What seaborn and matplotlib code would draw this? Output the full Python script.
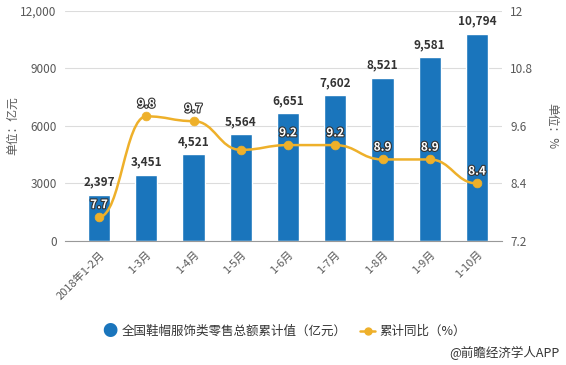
import numpy as np
import matplotlib
matplotlib.use("Agg")
import matplotlib.pyplot as plt
import matplotlib.patheffects as pe
from matplotlib.path import Path
from matplotlib.patches import PathPatch
import seaborn as sns
import pandas as pd

# data
months = ['2018年1-2月', '1-3月', '1-4月', '1-5月', '1-6月', '1-7月', '1-8月', '1-9月', '1-10月']
retail = [2397, 3451, 4521, 5564, 6651, 7602, 8521, 9581, 10794]
growth = [7.7, 9.8, 9.7, 9.1, 9.2, 9.2, 8.9, 8.9, 8.4]
growth_labels = ['7.7', '9.8', '9.7', '', '9.2', '9.2', '8.9', '8.9', '8.4']
left_ticks = [0, 3000, 6000, 9000, 12000]
left_ticklabels = ['0', '3000', '6000', '9000', '12,000']
right_ticks = [7.2, 8.4, 9.6, 10.8, 12]
right_ticklabels = ['7.2', '8.4', '9.6', '10.8', '12']

sns.set_style('white')
plt.rcParams['font.family'] = ['Noto Sans CJK SC', 'DejaVu Sans']

bar_color = '#1a75bc'
line_color = '#eeb02a'
text_gray = '#595959'

fig = plt.figure(figsize=(5.66, 3.65), dpi=100)
ax = fig.add_axes([0.115, 0.340, 0.772, 0.630])

df = pd.DataFrame({'month': months, 'retail': retail, 'growth': growth})
sns.barplot(data=df, x='month', y='retail', color=bar_color, saturation=1,
            width=0.47, ax=ax, zorder=2)

ax.set_ylim(0, 12000)
ax.set_xlim(-0.72, 8.53)
ax.set_yticks(left_ticks)
ax.set_yticklabels(left_ticklabels, fontsize=8.5, color=text_gray)
ax.yaxis.grid(True, color='#dcdcdc', linewidth=0.8, zorder=0)
ax.set_axisbelow(True)
for s in ['top', 'right', 'left']:
    ax.spines[s].set_visible(False)
ax.spines['bottom'].set_color('#999999')
ax.tick_params(axis='y', length=0, pad=6)
ax.tick_params(axis='x', length=4, color='#999999', pad=2)
ax.set_xticks(range(len(months)))
ax.set_xticklabels(months, rotation=45, ha='right', rotation_mode='anchor',
                   fontsize=8, color=text_gray)
ax.set_xlabel('')
ax.set_ylabel('')
fig.text(0.022, 0.655, '单位：亿元', fontsize=8.5, color=text_gray, rotation=90,
         ha='center', va='center')

for i, v in enumerate(retail):
    ax.text(i, v + 330, f'{v:,}', ha='center', va='bottom', fontsize=8.5,
            fontweight='bold', color='#333333', zorder=5)

ax2 = ax.twinx()
ax2.set_ylim(7.2, 12)
ax2.set_yticks(right_ticks)
ax2.set_yticklabels(right_ticklabels, fontsize=8.5, color=text_gray)
ax2.tick_params(axis='y', length=0, pad=6)
for s in ax2.spines.values():
    s.set_visible(False)
ax2.set_ylabel('')
fig.text(0.975, 0.655, '单位：%', fontsize=8.5, color=text_gray, rotation=270,
         ha='center', va='center')

# smooth line through the points (bezier, flat tangents at each point)
xs = np.arange(len(growth))
verts = [(xs[0], growth[0])]
codes = [Path.MOVETO]
for i in range(1, len(growth)):
    dx = (xs[i] - xs[i - 1]) * 0.45
    verts += [(xs[i - 1] + dx, growth[i - 1]), (xs[i] - dx, growth[i]), (xs[i], growth[i])]
    codes += [Path.CURVE4] * 3
ax2.add_patch(PathPatch(Path(verts, codes), facecolor='none', edgecolor=line_color,
                        linewidth=1.8, zorder=3))
sns.scatterplot(x=xs, y=growth, ax=ax2, color=line_color, s=40, edgecolor=line_color,
                zorder=4, legend=False)

for i, (v, lab) in enumerate(zip(growth, growth_labels)):
    if lab:
        ax2.text(i, v + 0.12, lab, ha='center', va='bottom', fontsize=8.5, fontweight='bold',
                 color='white', zorder=6,
                 path_effects=[pe.withStroke(linewidth=1.6, foreground='#333333')])

# legend
fig.text(0.194, 0.093, '●', fontsize=11, color=bar_color, ha='center', va='center')
fig.text(0.215, 0.093, '全国鞋帽服饰类零售总额累计值（亿元）', fontsize=9, color='#333333',
         ha='left', va='center')
fig.add_artist(plt.Line2D([0.636, 0.663], [0.093, 0.093], color=line_color, linewidth=1.8))
fig.add_artist(plt.Line2D([0.6495], [0.093], marker='o', markersize=5, color=line_color))
fig.text(0.671, 0.093, '累计同比（%）', fontsize=9, color='#333333', ha='left', va='center')

fig.text(0.989, 0.033, '@前瞻经济学人APP', fontsize=9, color='#333333', ha='right', va='center')

fig.savefig('out.png', dpi=100)
